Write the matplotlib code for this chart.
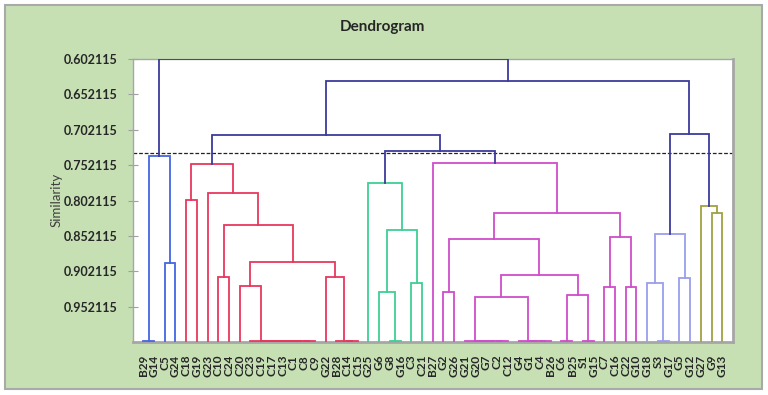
import matplotlib
matplotlib.use("Agg")
import matplotlib.pyplot as plt
from matplotlib.patches import Rectangle

# ---------------- data ----------------
leaves = ["B29", "G14", "C5", "G24", "C18", "G19", "G23", "C10", "C24", "C20",
          "C23", "C19", "C17", "C13", "C1", "C8", "C9", "G22", "B28", "C14",
          "C15", "G25", "G6", "G8", "G16", "C3", "C21", "B27", "G2", "G26",
          "G21", "G20", "G7", "C2", "C12", "G4", "G1", "C4", "B26", "C6",
          "B25", "S1", "G15", "C7", "C16", "C22", "G10", "G18", "S3", "G17",
          "G5", "G12", "G27", "G9", "G13"]

# (node name, left child, right child, similarity level)
blue_merges = [("b1", "B29", "G14", 1.0),
               ("b2", "C5", "G24", 0.8901),
               ("blue", "b1", "b2", 0.7394)]

red_merges = [("r1", "C18", "G19", 0.8015),
              ("z1", "C9", "C8", 1.0), ("z2", "z1", "C1", 1.0), ("z3", "z2", "C13", 1.0),
              ("z4", "z3", "C17", 1.0), ("z5", "z4", "C19", 1.0), ("z6", "z5", "C23", 1.0),
              ("r5", "C20", "z6", 0.9230),
              ("r6", "C10", "C24", 0.9099),
              ("y1", "C15", "C14", 1.0), ("y2", "y1", "B28", 1.0),
              ("r7", "G22", "y2", 0.9099),
              ("r4", "r5", "r7", 0.8887),
              ("r3", "r6", "r4", 0.8359),
              ("r2", "G23", "r3", 0.7921),
              ("red", "r1", "r2", 0.7511)]

green_merges = [("g0", "G8", "G16", 1.0),
                ("g1", "G6", "g0", 0.9311),
                ("g2", "C3", "C21", 0.9183),
                ("g3", "g1", "g2", 0.8439),
                ("green", "G25", "g3", 0.7780)]

magenta_merges = [("ma", "G2", "G26", 0.9311),
                  ("k1", "C12", "C2", 1.0), ("k2", "k1", "G7", 1.0),
                  ("k3", "k2", "G20", 1.0), ("k4", "k3", "G21", 1.0),
                  ("j1", "B26", "C4", 1.0), ("j2", "j1", "G1", 1.0), ("j3", "j2", "G4", 1.0),
                  ("mb", "k4", "j3", 0.9381),
                  ("h1", "C6", "B25", 1.0), ("h2", "S1", "G15", 1.0),
                  ("mc", "h1", "h2", 0.9347),
                  ("md", "mb", "mc", 0.9065),
                  ("me", "ma", "md", 0.8557),
                  ("mf", "C7", "C16", 0.9240),
                  ("mg", "C22", "G10", 0.9240),
                  ("mh", "mf", "mg", 0.8534),
                  ("mi", "me", "mh", 0.8195),
                  ("magenta", "B27", "mi", 0.7497)]

lavender_merges = [("l0", "S3", "G17", 1.0),
                   ("l1", "G18", "l0", 0.9183),
                   ("l2", "G5", "G12", 0.9107),
                   ("lavender", "l1", "l2", 0.8486)]

olive_merges = [("o1", "G9", "G13", 0.8197),
                ("olive", "G27", "o1", 0.8104)]

top_merges = [("gm", "green", "magenta", 0.7323),
              ("a", "red", "gm", 0.7097),
              ("b", "lavender", "olive", 0.7083),
              ("x", "a", "b", 0.6335),
              ("root", "blue", "x", 0.602115)]

group_colors = {"blue": "#4466e0", "red": "#e8375c", "green": "#3fcf93",
                "magenta": "#d04ccb", "lavender": "#9a9eec", "olive": "#9fa240",
                "top": "#3b3b9e"}

y_ticks = [0.602115, 0.652115, 0.702115, 0.752115, 0.802115, 0.852115, 0.902115, 0.952115]
cut_level = 0.7356

# ---------------- figure ----------------
W, H = 768, 395
fig = plt.figure(figsize=(W / 100, H / 100), dpi=100)
fig.patch.set_facecolor("white")
frame = Rectangle((5 / W, 1 - 389 / H), (762 - 5) / W, (389 - 5) / H,
                  transform=fig.transFigure, facecolor="#c6e0b4",
                  edgecolor="#a9a9a9", linewidth=1.5, zorder=-10)
fig.add_artist(frame)

ax = fig.add_axes([132.5 / W, 1 - 342.3 / H, (733 - 132.5) / W, (342.3 - 58.8) / H])
ax.set_zorder(1)
ax.set_facecolor("white")

pos = {lab: i for i, lab in enumerate(leaves)}
lev = {lab: 1.0 for lab in leaves}

groups = [("blue", blue_merges), ("red", red_merges), ("green", green_merges),
          ("magenta", magenta_merges), ("lavender", lavender_merges),
          ("olive", olive_merges), ("top", top_merges)]
for gname, merges in groups:
    col = group_colors[gname]
    for name, left, right, sim in merges:
        xl, xr = pos[left], pos[right]
        ax.plot([xl, xl, xr, xr], [lev[left], sim, sim, lev[right]],
                color=col, lw=1.3, solid_joinstyle="miter", zorder=3)
        pos[name] = (xl + xr) / 2
        lev[name] = sim

ax.axhline(cut_level, color="#222222", lw=0.9, ls=(0, (3, 1.5)), zorder=2)

ax.set_xlim(-1, len(leaves))
ax.set_ylim(1.002, 0.602115)

font = "Lato"
ax.set_yticks(y_ticks)
ax.set_yticklabels(["%.6f" % v for v in y_ticks], fontsize=9, fontweight="bold",
                   family=font, color="#262626")
ax.tick_params(axis="y", direction="inout", length=7, width=0.8, color="#a0a0a0", pad=7)

ax.set_xticks(range(len(leaves)))
ax.set_xticklabels(leaves, rotation=90, fontsize=8.5, fontweight="bold",
                   family=font, color="#262626")
ax.tick_params(axis="x", length=0, pad=9)

for s in ax.spines.values():
    s.set_color("#a6a6a6")
    s.set_linewidth(1.0)
ax.spines["right"].set_linewidth(2.0)
ax.spines["bottom"].set_linewidth(2.0)

fig.text(57 / W, 1 - 200 / H, "Similarity", rotation=90, ha="center", va="center",
         fontsize=9.5, family=font, color="#404040")
fig.text(382 / W, 1 - 27 / H, "Dendrogram", ha="center", va="center",
         fontsize=11, fontweight="bold", family=font, color="#262626")

fig.savefig("out.png", dpi=100, facecolor=fig.get_facecolor())
